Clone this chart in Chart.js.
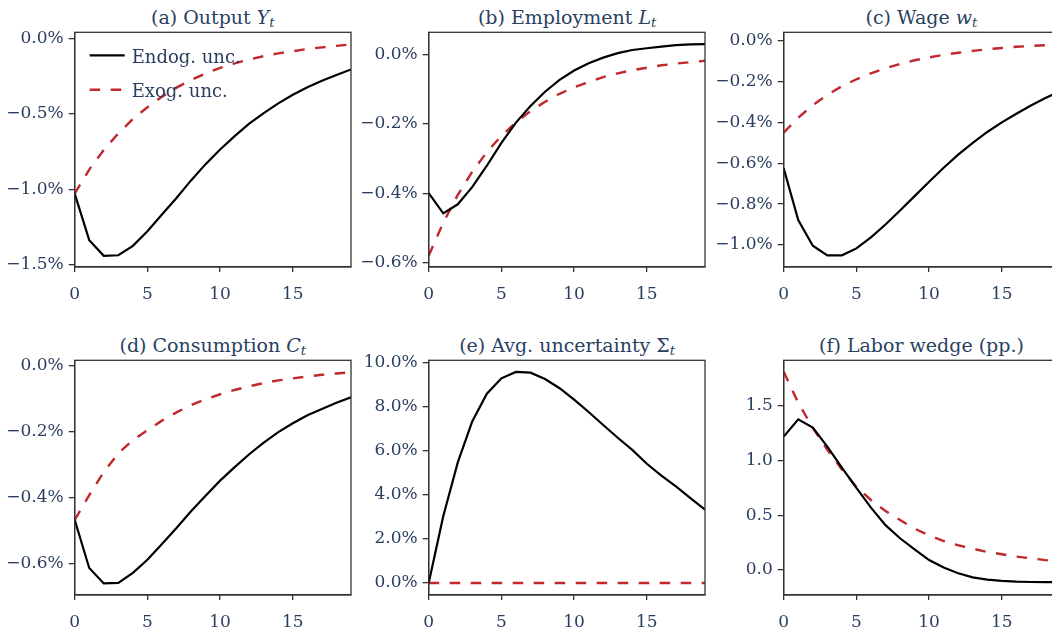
<!DOCTYPE html>
<html>
<head>
<meta charset="utf-8">
<script src="https://cdn.jsdelivr.net/npm/chart.js@4.4.1/dist/chart.umd.min.js"></script>
<style>
    html, body {
        margin: 0;
        padding: 0;
        background: #ffffff;
        overflow: hidden;
        width: 1052px;
        height: 634px;
    }
    .panel {
        position: absolute;
        width: 354px;
        height: 328px;
    }
    .panel canvas {
        position: absolute;
        left: 0;
        top: 0;
    }
    .title {
        position: absolute;
        left: 74.7px;
        width: 276.3px;
        top: 3px;
        text-align: center;
        font-family: 'DejaVu Serif', serif;
        font-size: 19px;
        line-height: 28px;
        color: #2a3f5f;
        white-space: nowrap;
    }
    .title sub {
        font-size: 70%;
        vertical-align: -0.25em;
        line-height: 0;
    }
</style>
</head>
<body>

<div class="panel" style="left:0px; top:0px">
    <div class="title">(a) Output <i>Y<sub>t</sub></i></div>
    <canvas id="outputChart" width="354" height="307"></canvas>
</div>
<div class="panel" style="left:354.3px; top:0px">
    <div class="title">(b) Employment <i>L<sub>t</sub></i></div>
    <canvas id="employmentChart" width="354" height="307"></canvas>
</div>
<div class="panel" style="left:708.6px; top:0px">
    <div class="title">(c) Wage <i>w<sub>t</sub></i></div>
    <canvas id="wageChart" width="354" height="307"></canvas>
</div>
<div class="panel" style="left:0px; top:328.4px">
    <div class="title">(d) Consumption <i>C<sub>t</sub></i></div>
    <canvas id="consumptionChart" width="354" height="307"></canvas>
</div>
<div class="panel" style="left:354.3px; top:328.4px">
    <div class="title">(e) Avg. uncertainty Σ<sub><i>t</i></sub></div>
    <canvas id="uncertaintyChart" width="354" height="307"></canvas>
</div>
<div class="panel" style="left:708.6px; top:328.4px">
    <div class="title">(f) Labor wedge (pp.)</div>
    <canvas id="wedgeChart" width="354" height="307"></canvas>
</div>

<script>
// horizons on the x axis
const horizons = [0, 1, 2, 3, 4, 5, 6, 7, 8, 9, 10, 11, 12, 13, 14, 15, 16, 17, 18, 19];
const xTicks = [0, 5, 10, 15];

// (a) output, % deviation
const outputEndog = [-1.030, -1.338, -1.442, -1.438, -1.376, -1.279, -1.168, -1.058, -0.942, -0.834,
                     -0.737, -0.648, -0.566, -0.496, -0.431, -0.374, -0.325, -0.281, -0.243, -0.206];
const outputExog = [-1.030, -0.870, -0.740, -0.630, -0.535, -0.457, -0.387, -0.327, -0.276, -0.233,
                    -0.196, -0.166, -0.140, -0.118, -0.100, -0.085, -0.071, -0.060, -0.050, -0.040];
const outputTicks = [-1.5, -1.0, -0.5, 0.0];
const outputRange = [-1.516, 0.04];

// (b) employment
const employmentEndog = [-0.400, -0.458, -0.432, -0.382, -0.321, -0.255, -0.197, -0.149, -0.108, -0.074,
                         -0.047, -0.026, -0.010, 0.003, 0.012, 0.017, 0.022, 0.026, 0.028, 0.029];
const employmentExog = [-0.580, -0.485, -0.405, -0.338, -0.282, -0.235, -0.196, -0.164, -0.137, -0.114,
                        -0.095, -0.080, -0.066, -0.055, -0.046, -0.039, -0.032, -0.027, -0.023, -0.019];
const employmentTicks = [-0.6, -0.4, -0.2, 0.0];
const employmentRange = [-0.6125, 0.063];

// (c) wage
const wageEndog = [-0.625, -0.878, -1.004, -1.051, -1.051, -1.017, -0.963, -0.900, -0.831, -0.761,
                   -0.691, -0.622, -0.558, -0.500, -0.447, -0.400, -0.358, -0.317, -0.281, -0.248];
const wageExog = [-0.450, -0.377, -0.316, -0.265, -0.223, -0.189, -0.160, -0.135, -0.114, -0.096,
                  -0.082, -0.069, -0.059, -0.050, -0.042, -0.036, -0.030, -0.026, -0.022, -0.019];
const wageTicks = [-1.0, -0.8, -0.6, -0.4, -0.2, 0.0];
const wageRange = [-1.108, 0.041];

// (d) consumption
const consumptionEndog = [-0.467, -0.613, -0.660, -0.658, -0.628, -0.588, -0.540, -0.492, -0.441, -0.394,
                          -0.348, -0.307, -0.268, -0.233, -0.201, -0.174, -0.150, -0.131, -0.112, -0.095];
const consumptionExog = [-0.467, -0.392, -0.322, -0.265, -0.225, -0.195, -0.166, -0.141, -0.119, -0.101,
                         -0.086, -0.073, -0.062, -0.052, -0.044, -0.038, -0.032, -0.027, -0.023, -0.019];
const consumptionTicks = [-0.6, -0.4, -0.2, 0.0];
const consumptionRange = [-0.695, 0.017];

// (e) average uncertainty
const uncertaintyEndog = [0.00, 3.03, 5.48, 7.35, 8.60, 9.30, 9.59, 9.56, 9.27, 8.85,
                          8.33, 7.77, 7.18, 6.60, 6.05, 5.42, 4.88, 4.39, 3.86, 3.33];
const uncertaintyExog = [0, 0, 0, 0, 0, 0, 0, 0, 0, 0, 0, 0, 0, 0, 0, 0, 0, 0, 0, 0];
const uncertaintyTicks = [0, 2, 4, 6, 8, 10];
const uncertaintyRange = [-0.545, 10.12];

// (f) labor wedge, pp.
const wedgeEndog = [1.220, 1.378, 1.302, 1.128, 0.936, 0.750, 0.570, 0.410, 0.290, 0.189,
                    0.091, 0.022, -0.030, -0.068, -0.088, -0.100, -0.107, -0.110, -0.112, -0.112];
const wedgeExog = [1.814, 1.530, 1.300, 1.100, 0.920, 0.760, 0.640, 0.540, 0.457, 0.378,
                   0.317, 0.265, 0.226, 0.195, 0.165, 0.144, 0.122, 0.107, 0.090, 0.078];
const wedgeTicks = [0.0, 0.5, 1.0, 1.5];
const wedgeRange = [-0.229, 1.918];

const seriesNames = ['Endog. unc.', 'Exog. unc.'];

const textColor = '#2a3f5f';
const axisColor = '#333333';
const redColor = '#c0282d';
const tickFont = { family: "'DejaVu Serif', serif", size: 17 };

// tick label formats, with a real minus sign
function pctLabel(v) {
    return (v < 0 ? '\u2212' : '') + Math.abs(v).toFixed(1) + '%';
}
function plainLabel(v) {
    return (v < 0 ? '\u2212' : '') + Math.abs(v).toFixed(1);
}

// box round the plot area (top and right sides too)
const frameBox = {
    id: 'frameBox',
    afterDraw(chart) {
        const a = chart.chartArea;
        const ctx = chart.ctx;
        ctx.save();
        ctx.strokeStyle = axisColor;
        ctx.lineWidth = 1.3;
        ctx.strokeRect(a.left, a.top, a.right - a.left, a.bottom - a.top);
        ctx.restore();
    }
};

// legend drawn inside the top-left corner of the plot area
const insideLegend = {
    id: 'insideLegend',
    afterDatasetsDraw(chart, args, opts) {
        if (!opts.show) return;
        const a = chart.chartArea;
        const ctx = chart.ctx;
        chart.data.datasets.forEach((ds, i) => {
            const y = a.top + 23 + i * 34.4;
            const x0 = a.left + 15;
            ctx.save();
            ctx.strokeStyle = ds.borderColor;
            ctx.lineWidth = ds.borderWidth;
            ctx.setLineDash(ds.borderDash || []);
            ctx.beginPath();
            ctx.moveTo(x0, y);
            ctx.lineTo(x0 + 35, y);
            ctx.stroke();
            ctx.setLineDash([]);
            ctx.fillStyle = textColor;
            ctx.font = "18px 'DejaVu Serif', serif";
            ctx.textBaseline = 'alphabetic';
            ctx.fillText(ds.label, x0 + 42, y + 7.5);
            ctx.restore();
        });
    }
};

function makePanel(canvasId, endog, exog, range, yTicks, fmt, showLegend) {
    const ctx = document.getElementById(canvasId).getContext('2d');
    return new Chart(ctx, {
        type: 'line',
        data: {
            labels: horizons,
            datasets: [{
                label: seriesNames[0],
                data: endog,
                borderColor: '#000000',
                backgroundColor: '#000000',
                borderWidth: 2.2,
                pointRadius: 0,
                tension: 0,
                fill: false
            }, {
                label: seriesNames[1],
                data: exog,
                borderColor: redColor,
                backgroundColor: redColor,
                borderWidth: 2.4,
                borderDash: [10.5, 10.5],
                pointRadius: 0,
                tension: 0,
                fill: false
            }]
        },
        options: {
            responsive: false,
            animation: false,
            events: [],
            layout: {
                padding: { left: 0, right: 3, top: 32.3, bottom: 0 }
            },
            plugins: {
                legend: { display: false },
                tooltip: { enabled: false },
                insideLegend: { show: showLegend }
            },
            scales: {
                x: {
                    type: 'linear',
                    min: 0,
                    max: 19,
                    afterBuildTicks: (scale) => {
                        scale.ticks = xTicks.map(v => ({ value: v }));
                    },
                    afterFit: (scale) => {
                        scale.height = 40;
                    },
                    ticks: {
                        color: textColor,
                        font: tickFont,
                        padding: 12,
                        maxRotation: 0,
                        callback: (v) => String(v)
                    },
                    grid: {
                        drawOnChartArea: false,
                        drawTicks: true,
                        tickLength: 5,
                        color: axisColor,
                        lineWidth: 1.3
                    },
                    border: { display: true, color: axisColor, width: 1.3 }
                },
                y: {
                    min: range[0],
                    max: range[1],
                    afterBuildTicks: (scale) => {
                        scale.ticks = yTicks.map(v => ({ value: v }));
                    },
                    afterFit: (scale) => {
                        scale.width = 74.7;
                    },
                    ticks: {
                        color: textColor,
                        font: tickFont,
                        padding: 5,
                        callback: (v) => fmt(v)
                    },
                    grid: {
                        drawOnChartArea: false,
                        drawTicks: true,
                        tickLength: 6,
                        color: axisColor,
                        lineWidth: 1.3
                    },
                    border: { display: true, color: axisColor, width: 1.3 }
                }
            }
        },
        plugins: [frameBox, insideLegend]
    });
}

makePanel('outputChart', outputEndog, outputExog, outputRange, outputTicks, pctLabel, true);
makePanel('employmentChart', employmentEndog, employmentExog, employmentRange, employmentTicks, pctLabel, false);
makePanel('wageChart', wageEndog, wageExog, wageRange, wageTicks, pctLabel, false);
makePanel('consumptionChart', consumptionEndog, consumptionExog, consumptionRange, consumptionTicks, pctLabel, false);
makePanel('uncertaintyChart', uncertaintyEndog, uncertaintyExog, uncertaintyRange, uncertaintyTicks, pctLabel, false);
makePanel('wedgeChart', wedgeEndog, wedgeExog, wedgeRange, wedgeTicks, plainLabel, false);
</script>
</body>
</html>
